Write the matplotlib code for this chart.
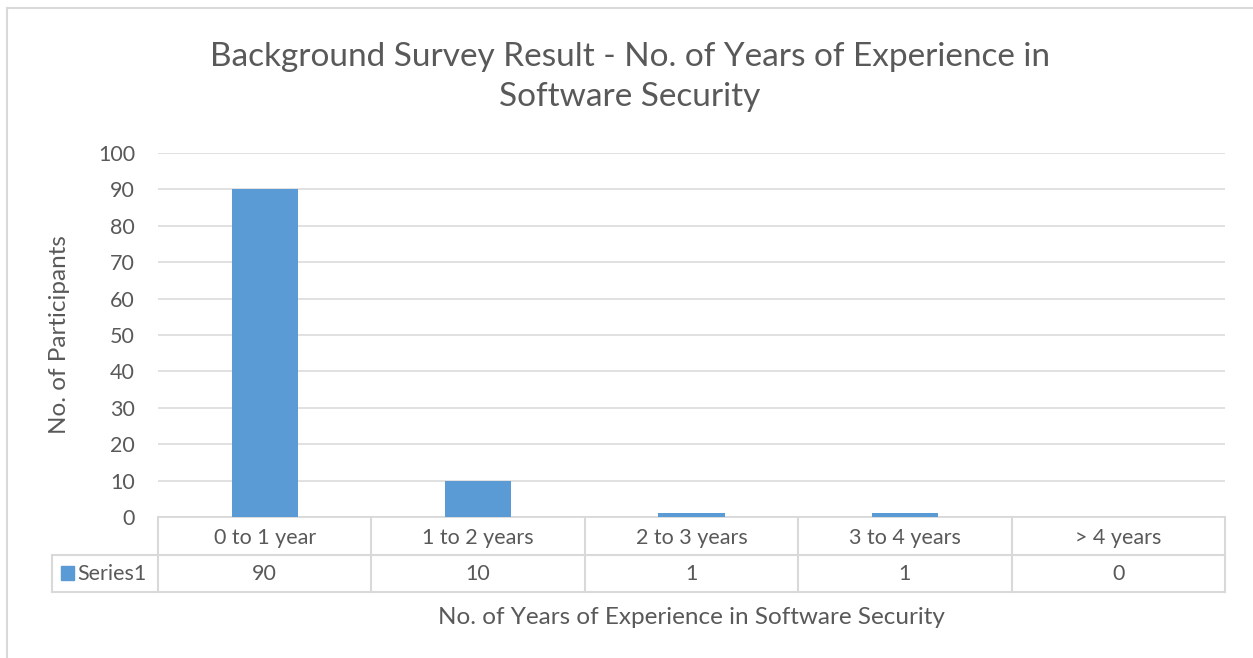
import matplotlib
matplotlib.use("Agg")
import matplotlib.pyplot as plt
from matplotlib.patches import Rectangle
from matplotlib.lines import Line2D

categories = ["0 to 1 year", "1 to 2 years", "2 to 3 years", "3 to 4 years", "> 4 years"]
values = [90, 10, 1, 1, 0]
series_name = "Series1"
yticks = [0, 10, 20, 30, 40, 50, 60, 70, 80, 90, 100]
title = "Background Survey Result - No. of Years of Experience in\nSoftware Security"
xlabel = "No. of Years of Experience in Software Security"
ylabel = "No. of Participants"

W, H = 1253, 658
plt.rcParams['font.family'] = ['Lato', 'DejaVu Sans']
TXT = '#595959'
GRID = '#d9d9d9'
BAR = '#5b9bd5'
FS_TICK = 15.5
FS_LAB = 17.5
FS_TITLE = 24

fig = plt.figure(figsize=(W / 100, H / 100), dpi=100)

def fx(x):
    return x / W

def fy(y):
    return 1 - y / H

L, R, T, B = 158, 1225, 153, 517
ax = fig.add_axes([fx(L), fy(B), fx(R) - fx(L), fy(T) - fy(B)])
n = len(categories)
ax.bar(range(n), values, width=0.31, color=BAR, zorder=3)
ax.set_xlim(-0.5, n - 0.5)
ax.set_ylim(0, 100)
ax.set_yticks(yticks)
ax.set_yticklabels([str(v) for v in yticks], fontsize=FS_TICK, color=TXT)
ax.set_xticks([])
ax.tick_params(axis='y', length=0, pad=16.5)
ax.grid(axis='y', color=GRID, linewidth=1.1, zorder=0)
for s in ['top', 'right', 'left']:
    ax.spines[s].set_visible(False)
ax.spines['bottom'].set_color(GRID)
ax.spines['bottom'].set_linewidth(1.3)
fig.text(fx(60), fy(335), ylabel, rotation=90, ha='center', va='center', fontsize=FS_LAB, color=TXT)

# Data table drawn in figure pixel coordinates
def hline(y, x0, x1):
    fig.add_artist(Line2D([fx(x0), fx(x1)], [fy(y), fy(y)], color=GRID, lw=1.5))

def vline(x, y0, y1):
    fig.add_artist(Line2D([fx(x), fx(x)], [fy(y0), fy(y1)], color=GRID, lw=1.5))

row1, row2, row3 = 517, 555, 592
left_cell = 52
hline(row2, left_cell, R)
hline(row3, left_cell, R)
vline(left_cell, row2, row3)
cw = (R - L) / n
for k in range(n + 1):
    vline(L + k * cw, row1, row3)
for k, (c, v) in enumerate(zip(categories, values)):
    cx = L + (k + 0.5) * cw
    fig.text(fx(cx), fy((row1 + row2) / 2 + 1.5), c, ha='center', va='center', fontsize=FS_TICK, color=TXT)
    fig.text(fx(cx), fy((row2 + row3) / 2 + 1), str(v), ha='center', va='center', fontsize=FS_TICK, color=TXT)
fig.add_artist(Rectangle((fx(61), fy(580)), fx(13), 14 / H, color=BAR, transform=fig.transFigure))
fig.text(fx(77), fy((row2 + row3) / 2 + 1), series_name, ha='left', va='center', fontsize=FS_TICK, color=TXT)

fig.text(fx((L + R) / 2), fy(617), xlabel, ha='center', va='center', fontsize=FS_LAB, color=TXT)
fig.text(fx(630), fy(77), title, ha='center', va='center', fontsize=FS_TITLE, color=TXT, linespacing=1.45)

# outer chart border
fig.add_artist(Rectangle((fx(7), -0.05), 1.1, fy(8) + 0.05, fill=False, edgecolor=GRID, lw=1.5,
                         transform=fig.transFigure))

fig.savefig("out.png", dpi=100)
